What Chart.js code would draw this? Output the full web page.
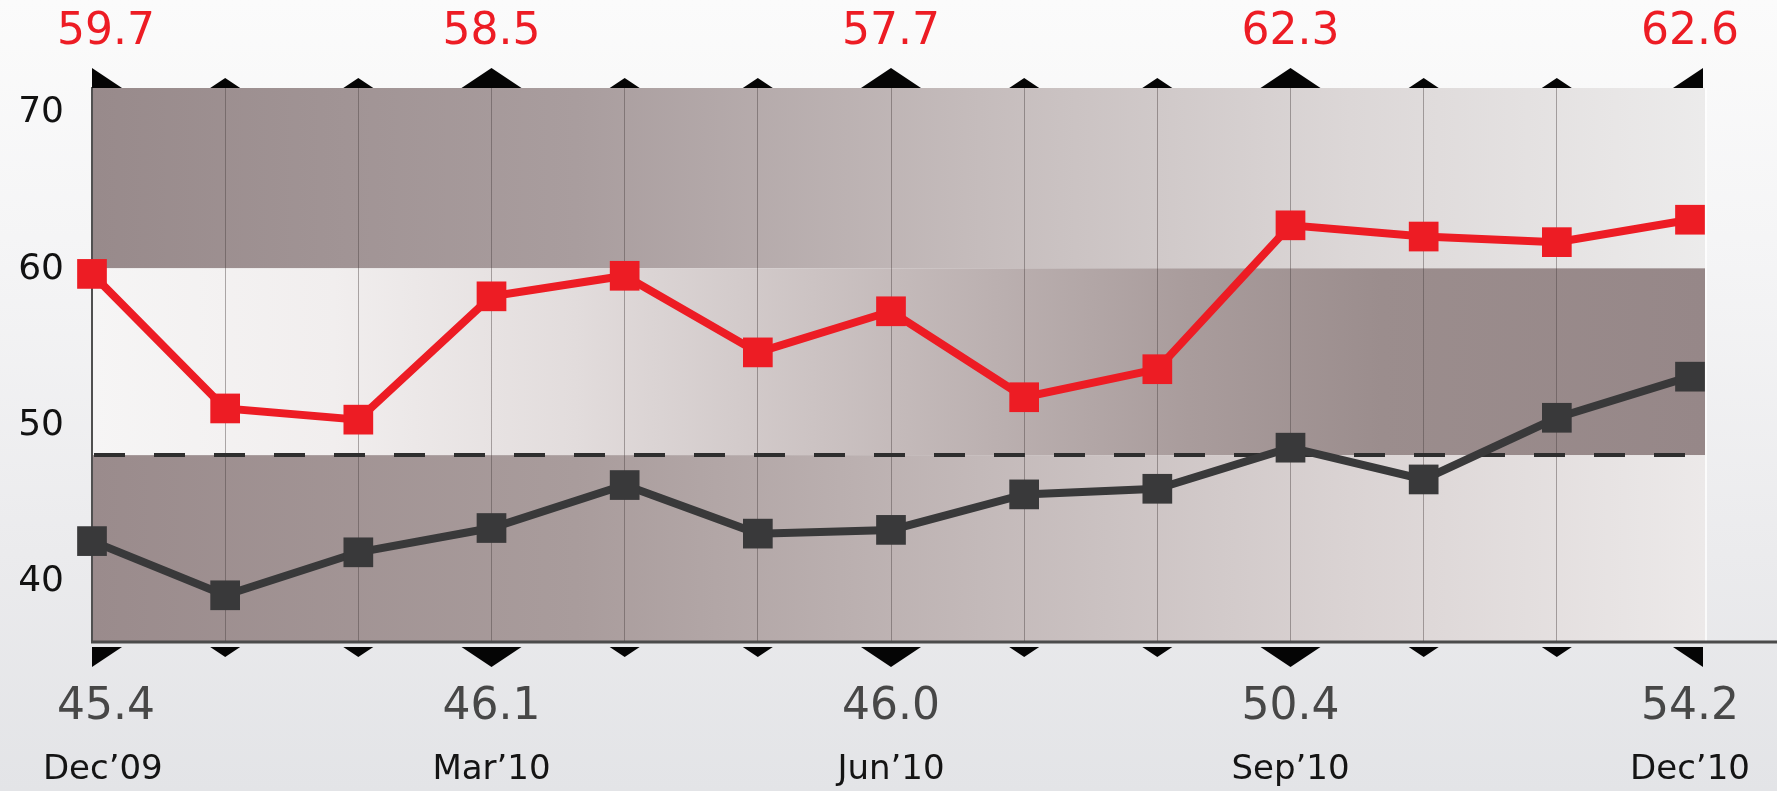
<!DOCTYPE html>
<html>
<head>
<meta charset="utf-8">
<script src="https://cdn.jsdelivr.net/npm/chart.js@4.4.1/dist/chart.umd.min.js"></script>
<style>
  html, body { margin: 0; padding: 0; width: 1777px; height: 791px; overflow: hidden; }
  body { background: linear-gradient(to bottom, #fbfbfb 0%, #f5f5f6 30%, #ebebed 70%, #e3e4e7 100%); }
  #wrap { position: relative; width: 1777px; height: 791px; }
</style>
</head>
<body>
<div id="wrap"><canvas id="chart" width="1777" height="791"></canvas></div>
<script>
// Monthly readings, Dec'09 to Dec'10
const categories = ['Dec\u201909', 'Jan\u201910', 'Feb\u201910', 'Mar\u201910', 'Apr\u201910', 'May\u201910',
                    'Jun\u201910', 'Jul\u201910', 'Aug\u201910', 'Sep\u201910', 'Oct\u201910', 'Nov\u201910', 'Dec\u201910'];
const upperSeries = [59.7, 52.5, 51.9, 58.5, 59.6, 55.5, 57.7, 53.1, 54.6, 62.3, 61.7, 61.4, 62.6];
const lowerSeries = [45.4, 42.5, 44.8, 46.1, 48.4, 45.8, 46.0, 47.9, 48.2, 50.4, 48.7, 52.0, 54.2];
// Quarter-end months carry labels and the large markers
const quarterIndex = [0, 3, 6, 9, 12];
const yTickLabels = [40, 50, 60, 70];

const FONT = 'DejaVu Sans';
const RED = '#ed1c24';
const DARK = '#39393a';
const BLEED = 15;            // shaded plot box runs a little past the last month
const LEAD = '\u2007';       // figure space: nudges the first label of each row inward

// Shaded horizontal bands behind the lines (value ranges, left-to-right gradient)
const bands = [
  { from: 60, to: 'max', stops: [[0, '#988a8b'], [0.3, '#a99d9e'], [0.55, '#c5bcbc'], [0.78, '#dcd7d7'], [1, '#ecebeb']] },
  { from: 50, to: 60, stops: [[0, '#f6f5f5'], [0.15, '#f1eeee'], [0.3, '#e2dcdc'], [0.5, '#c4baba'], [0.68, '#a99c9c'], [0.8, '#9b8d8d'], [1, '#968788']] },
  { from: 40, to: 50, stops: [[0, '#9a8b8c'], [0.3, '#a99c9c'], [0.55, '#c3b9b9'], [0.78, '#dad3d3'], [1, '#ece9e9']] }
];

const isQuarter = i => quarterIndex.includes(i);
const edgeLabel = (i, text) => (i === 0 ? LEAD + text : text);
// fixed box height for a label row, without side padding for overhanging labels
const fixedRow = h => s => { s.height = h; s.paddingLeft = 0; s.paddingRight = 0; };

const backdropPlugin = {
  id: 'backdrop',
  beforeDraw(chart) {
    const { ctx, chartArea: a, scales: { y } } = chart;
    const right = a.right + BLEED;
    ctx.save();
    bands.forEach(b => {
      const top = y.getPixelForValue(b.to === 'max' ? y.max : b.to);
      const bottom = y.getPixelForValue(b.from);
      const g = ctx.createLinearGradient(a.left, 0, right, 0);
      b.stops.forEach(([o, c]) => g.addColorStop(o, c));
      ctx.fillStyle = g;
      ctx.fillRect(a.left, top, right - a.left, bottom - top);
    });
    // light edge on the right side of the box
    ctx.fillStyle = 'rgba(255,255,255,0.75)';
    ctx.fillRect(right, a.top, 2, a.bottom - a.top);
    ctx.restore();
  },
  beforeDatasetsDraw(chart) {
    const { ctx, chartArea: a, scales: { y } } = chart;
    ctx.save();
    // dashed reference at 50
    const y50 = Math.round(y.getPixelForValue(50));
    ctx.strokeStyle = '#2e2e2e';
    ctx.lineWidth = 4;
    ctx.setLineDash([31, 29]);
    ctx.beginPath();
    ctx.moveTo(a.left + 2, y50);
    ctx.lineTo(a.right + BLEED, y50);
    ctx.stroke();
    ctx.setLineDash([]);
    // bottom axis line, running to the right edge
    ctx.strokeStyle = '#4b4b4b';
    ctx.lineWidth = 3;
    ctx.beginPath();
    ctx.moveTo(a.left - 1, a.bottom);
    ctx.lineTo(chart.width, a.bottom);
    ctx.stroke();
    ctx.restore();
  },
  afterDraw(chart) {
    const { ctx, chartArea: a, scales: { x } } = chart;
    const last = categories.length - 1;
    ctx.save();
    ctx.fillStyle = '#050505';
    categories.forEach((c, i) => {
      const big = isQuarter(i);
      const hw = big ? 30 : 15;
      const h = big ? 20 : 10;
      let cx = x.getPixelForValue(i);
      if (i === last) cx = a.right + BLEED - 2;
      const l = i === 0 ? 0 : hw;
      const r = i === last ? 0 : hw;
      // top marker pointing up
      const tb = a.top;
      ctx.beginPath();
      ctx.moveTo(cx - l, tb);
      ctx.lineTo(cx, tb - h);
      ctx.lineTo(cx + r, tb);
      ctx.closePath();
      ctx.fill();
      // bottom marker pointing down
      const bb = a.bottom + 5;
      ctx.beginPath();
      ctx.moveTo(cx - l, bb);
      ctx.lineTo(cx, bb + h);
      ctx.lineTo(cx + r, bb);
      ctx.closePath();
      ctx.fill();
    });
    ctx.restore();
  }
};

const ctx = document.getElementById('chart').getContext('2d');
new Chart(ctx, {
  type: 'line',
  data: {
    labels: categories,
    datasets: [
      {
        label: 'Upper',
        data: upperSeries,
        borderColor: RED,
        backgroundColor: RED,
        borderWidth: 8,
        pointStyle: 'rect',
        pointRadius: 21,
        pointBorderWidth: 0,
        tension: 0,
        xAxisID: 'x',
        yAxisID: 'y'
      },
      {
        label: 'Lower',
        data: lowerSeries,
        borderColor: DARK,
        backgroundColor: DARK,
        borderWidth: 8,
        pointStyle: 'rect',
        pointRadius: 21,
        pointBorderWidth: 0,
        tension: 0,
        xAxisID: 'x',
        yAxisID: 'y'
      }
    ]
  },
  options: {
    responsive: false,
    animation: false,
    devicePixelRatio: 1,
    layout: { autoPadding: false, padding: { left: 0, right: 87, top: 0, bottom: 0 } },
    plugins: { legend: { display: false }, tooltip: { enabled: false } },
    scales: {
      x: {
        type: 'category',
        position: 'bottom',
        offset: false,
        weight: 0,
        grid: {
          display: true,
          drawTicks: false,
          lineWidth: 1,
          color: c => (c.index === categories.length - 1 ? 'rgba(0,0,0,0)' : 'rgba(70,60,60,0.42)')
        },
        border: { display: false },
        ticks: {
          autoSkip: false, maxRotation: 0, padding: 39,
          color: '#474747',
          font: { family: FONT, size: 44 },
          callback: (v, i) => (isQuarter(i) ? edgeLabel(i, lowerSeries[i].toFixed(1)) : '')
        },
        afterFit: fixedRow(92)
      },
      xMonth: {
        type: 'category',
        position: 'bottom',
        offset: false,
        weight: 1,
        grid: { display: false, drawTicks: false },
        border: { display: false },
        ticks: {
          autoSkip: false, maxRotation: 0, padding: 16,
          color: '#141414',
          font: { family: FONT, size: 34 },
          callback: (v, i) => (isQuarter(i) ? edgeLabel(i, categories[i]) : '')
        },
        afterFit: fixedRow(57)
      },
      xTop: {
        type: 'category',
        position: 'top',
        offset: false,
        grid: { display: false, drawTicks: false },
        border: { display: false },
        ticks: {
          autoSkip: false, maxRotation: 0, padding: 29,
          color: RED,
          font: { family: FONT, size: 44 },
          callback: (v, i) => (isQuarter(i) ? edgeLabel(i, upperSeries[i].toFixed(1)) : '')
        },
        afterFit: fixedRow(88)
      },
      y: { type: 'linear', min: 40, max: 69.65, display: false },
      yLabels: {
        type: 'linear',
        position: 'left',
        min: 36.16,
        max: 71.6,
        grid: { display: false, drawTicks: false },
        border: { display: true, color: '#505050', width: 2 },
        ticks: {
          padding: 28,
          color: '#121212',
          font: { family: FONT, size: 36 }
        },
        afterBuildTicks: s => { s.ticks = yTickLabels.map(v => ({ value: v })); },
        afterFit: s => { s.width = 92; s.paddingTop = 0; s.paddingBottom = 0; }
      }
    }
  },
  plugins: [backdropPlugin]
});
</script>
</body>
</html>
